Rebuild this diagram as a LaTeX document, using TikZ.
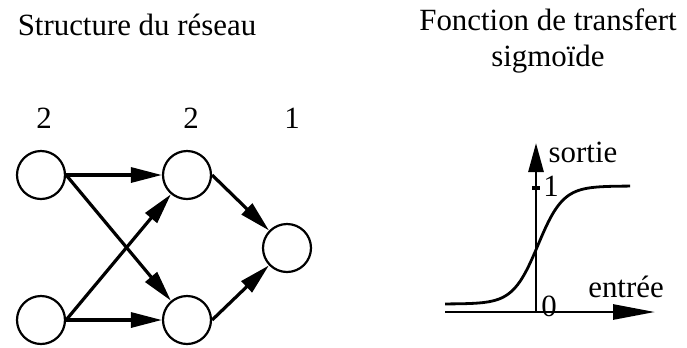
\documentclass[tikz,border=0pt]{standalone}
\usepackage{fontspec}
\setmainfont{Liberation Serif}
\usetikzlibrary{arrows.meta,positioning}
\tikzset{
  >={Triangle[length=31bp,width=15bp]},
  neuron/.style={circle,draw,line width=2.2bp,minimum size=48bp,inner sep=0pt},
  link/.style={->,line width=3.2bp},
  lbl/.style={font=\fontsize{31}{36}\selectfont,inner sep=0pt},
  axis/.style={line width=2.8bp},
}

\begin{document}
\begin{tikzpicture}[x=1bp,y=-1bp]
        \useasboundingbox (0,0) rectangle (687,347);
        % titles
        \node[lbl] (t1) at (137,25) {Structure du réseau};
        \node[lbl,align=center] (t2) at (548,41) {Fonction de transfert\\sigmoïde};
        % network
        \node[neuron] (i1) at (41,175) {};
        \node[neuron] (i2) at (41,320) {};
        \node[neuron] (h1) at (187,175) {};
        \node[neuron] (h2) at (187,320) {};
        \node[neuron] (o) at (287,248) {};
        \node[lbl] (n1) at (44,118) {2};
        \node[lbl] (n2) at (191,118) {2};
        \node[lbl] (n3) at (292,118) {1};
        \draw[link] (i1.east) -- (h1);
        \draw[link] (i1.east) -- (h2);
        \draw[link] (i2.east) -- (h1);
        \draw[link] (i2.east) -- (h2);
        \draw[link] (h1.east) -- (o);
        \draw[link] (h2.east) -- (o);
        % sigmoid
        \coordinate (xs) at (445,312);
        \coordinate (xe) at (655,312);
        \coordinate (org) at (536,312);
        \coordinate (ye) at (536,143);
        \draw[axis,-{Triangle[length=42bp,width=15bp]}] (xs) -- (xe);
        \draw[axis,-{Triangle[length=29bp,width=15bp]}] (org) -- (ye);
        \draw[line width=3.5bp] ([xshift=-4bp]536,188) -- ([xshift=4bp]536,188);
        \draw[axis,domain=445:630,samples=80,smooth]
          plot (\x,{304-118/(1+exp(-(\x-538)/12.5))});
        \node[lbl] (one) at (551,186) {1};
        \node[lbl] (zero) at (549,306) {0};
        \node[lbl] (out) at (583,152) {sortie};
        \node[lbl] (in) at (626,287) {entrée};
      \end{tikzpicture}
\end{document}
